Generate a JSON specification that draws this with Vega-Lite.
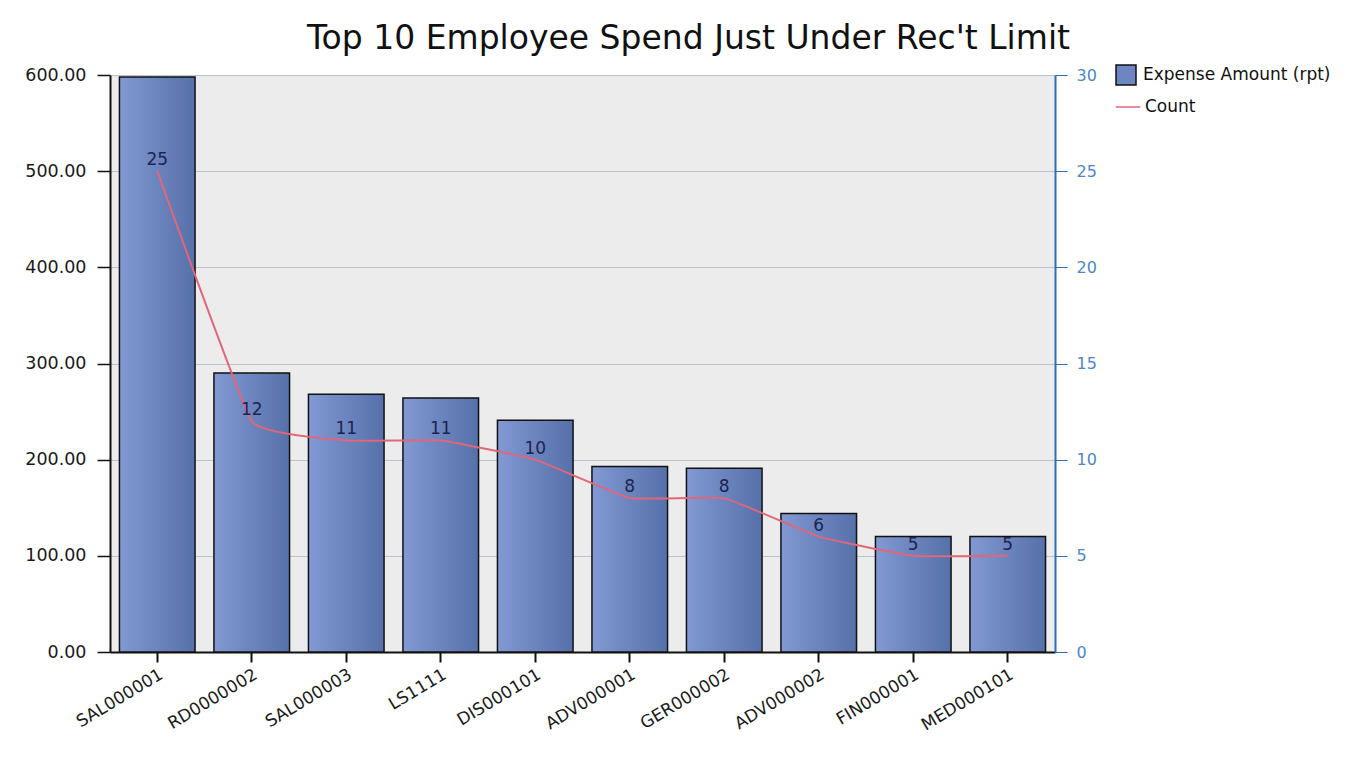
{
  "$schema": "https://vega.github.io/schema/vega-lite/v6.json",
  "width": 945,
  "height": 577,
  "autosize": {"type": "none"},
  "padding": {"left": 110, "top": 75, "right": 304, "bottom": 123},
  "background": "white",
  "config": {
    "view": {"fill": "#ececec", "stroke": null},
    "font": "DejaVu Sans"
  },
  "title": {
    "text": "Top 10 Employee Spend Just Under Rec't Limit",
    "font": "DejaVu Sans",
    "fontSize": 33,
    "fontWeight": "normal",
    "color": "#111111",
    "anchor": "middle",
    "baseline": "alphabetic",
    "dx": 106,
    "dy": 44,
    "offset": 26
  },
  "data": {
    "values": [
      {"id": "SAL000001", "amount": 598, "count": 25},
      {"id": "RD0000002", "amount": 290, "count": 12},
      {"id": "SAL000003", "amount": 268, "count": 11},
      {"id": "LS1111", "amount": 264, "count": 11},
      {"id": "DIS000101", "amount": 241, "count": 10},
      {"id": "ADV000001", "amount": 193, "count": 8},
      {"id": "GER000002", "amount": 191, "count": 8},
      {"id": "ADV000002", "amount": 144, "count": 6},
      {"id": "FIN000001", "amount": 120, "count": 5},
      {"id": "MED000101", "amount": 120, "count": 5}
    ]
  },
  "encoding": {
    "x": {
      "field": "id",
      "type": "nominal",
      "sort": null,
      "scale": {"paddingInner": 0.2, "paddingOuter": 0.1},
      "axis": {
        "title": null,
        "labelAngle": -31,
        "labelAlign": "right",
        "labelBaseline": "top",
        "labelFontSize": 17,
        "labelColor": "#1a1a1a",
        "labelPadding": 4,
        "tickSize": 10,
        "tickColor": "#111111",
        "tickWidth": 2,
        "domainColor": "#111111",
        "domainWidth": 2,
        "grid": false
      }
    }
  },
  "layer": [
    {
      "mark": {
        "type": "bar",
        "stroke": "#111111",
        "strokeWidth": 1.5,
        "color": {"gradient": "linear", "x1": 0, "y1": 0, "x2": 1, "y2": 0,
          "stops": [{"offset": 0, "color": "#8299d3"}, {"offset": 1, "color": "#5670a9"}]}
      },
      "encoding": {
        "y": {
          "field": "amount",
          "type": "quantitative",
          "scale": {"domain": [0, 600], "nice": false},
          "axis": {
            "title": null,
            "orient": "left",
            "format": ".2f",
            "values": [0, 100, 200, 300, 400, 500, 600],
            "labelFontSize": 17.5,
            "labelColor": "#1a1a1a",
            "labelPadding": 11,
            "tickSize": 13,
            "tickColor": "#111111",
            "tickWidth": 1.5,
            "domainColor": "#111111",
            "domainWidth": 2,
            "grid": true,
            "gridColor": "#b9c3cc",
            "gridWidth": 1
          }
        }
      }
    },
    {
      "mark": {"type": "point", "shape": "square", "opacity": 0, "filled": true},
      "encoding": {
        "y": {"field": "amount", "type": "quantitative", "scale": {"domain": [0, 600], "nice": false}, "axis": null},
        "fill": {
          "datum": "Expense Amount (rpt)",
          "type": "nominal",
          "scale": {"range": ["#6d86c2"]},
          "legend": {
            "title": null,
            "orient": "none",
            "legendX": 1005,
            "legendY": -11,
            "symbolType": "square",
            "symbolSize": 400,
            "symbolOpacity": 1,
            "symbolStrokeColor": "#111111",
            "symbolStrokeWidth": 1.5,
            "labelFontSize": 17,
            "labelLimit": 400,
            "labelColor": "#111111",
            "labelOffset": 6,
            "padding": 0
          }
        }
      }
    },
    {
      "mark": {"type": "line", "interpolate": "cardinal", "tension": 0.7, "strokeWidth": 2},
      "encoding": {
        "y": {
          "field": "count",
          "type": "quantitative",
          "scale": {"domain": [0, 30], "nice": false},
          "axis": {
            "title": null,
            "orient": "right",
            "values": [0, 5, 10, 15, 20, 25, 30],
            "labelFontSize": 16,
            "labelColor": "#4f86c2",
            "labelPadding": 9,
            "tickSize": 12,
            "tickColor": "#2f6cb3",
            "domainColor": "#2f6cb3",
            "domainWidth": 2,
            "grid": false
          }
        },
        "stroke": {
          "datum": "Count",
          "type": "nominal",
          "scale": {"range": ["#e0667a"]},
          "legend": {
            "title": null,
            "orient": "none",
            "legendX": 1005,
            "legendY": 19,
            "symbolType": "stroke",
            "symbolSize": 600,
            "symbolStrokeWidth": 1.5,
            "labelFontSize": 17,
            "labelColor": "#111111",
            "labelOffset": 4,
            "padding": 0
          }
        }
      }
    },
    {
      "mark": {"type": "text", "dy": -11, "fontSize": 17, "color": "#1a2452"},
      "encoding": {
        "y": {"field": "count", "type": "quantitative", "scale": {"domain": [0, 30], "nice": false}, "axis": null},
        "text": {"field": "count", "type": "quantitative"}
      }
    }
  ],
  "resolve": {"scale": {"y": "independent", "fill": "independent", "stroke": "independent"}}
}
